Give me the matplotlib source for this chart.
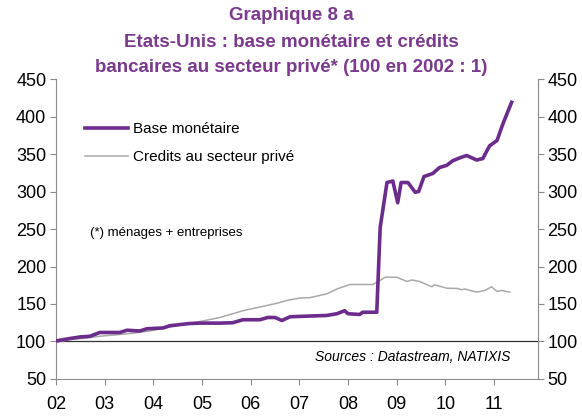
import matplotlib
matplotlib.use("Agg")
import matplotlib.pyplot as plt

plt.rcParams['font.family'] = ['Liberation Sans', 'DejaVu Sans']

# --- data (decimal year, index 100 = 2002:1) ---
baseYears = [2002.02, 2002.29, 2002.49, 2002.70, 2002.90, 2003.31, 2003.46, 2003.72,
             2003.87, 2004.20, 2004.34, 2004.75, 2004.96, 2005.37, 2005.63, 2005.84,
             2006.19, 2006.35, 2006.50, 2006.64, 2006.81, 2007.56, 2007.77, 2007.93,
             2008.00, 2008.24, 2008.30, 2008.55, 2008.59, 2008.66, 2008.80, 2008.92,
             2009.02, 2009.09, 2009.23, 2009.38, 2009.45, 2009.56, 2009.74, 2009.88,
             2010.03, 2010.15, 2010.30, 2010.44, 2010.54, 2010.64, 2010.77, 2010.85,
             2010.91, 2011.06, 2011.18, 2011.36]
baseValues = [101, 104, 106, 107, 112, 112, 115, 114,
              117, 118, 121, 124, 124.5, 124.5, 125, 129,
              129, 132, 132, 128, 133, 134.7, 137, 141,
              137, 136, 139, 139, 139, 252, 312, 314,
              285, 312, 312, 299, 300, 320, 324, 332,
              335, 341, 345, 348, 345, 342, 344, 354,
              361, 368, 390, 419]

creditYears = [2002.02, 2002.29, 2002.55, 2002.90, 2003.25, 2003.58, 2003.93, 2004.28,
               2004.61, 2004.96, 2005.37, 2005.84, 2006.54, 2006.74, 2007.01, 2007.22,
               2007.56, 2007.77, 2008.04, 2008.51, 2008.65, 2008.76, 2009.00, 2009.21,
               2009.31, 2009.47, 2009.72, 2009.78, 2010.03, 2010.25, 2010.34, 2010.40,
               2010.64, 2010.81, 2010.95, 2011.06, 2011.16, 2011.32]
creditValues = [99, 102.7, 104, 107, 109, 111, 114, 118.7,
                122.7, 126.7, 132, 141, 151, 154.7, 158, 158.5,
                163.5, 170, 176, 176, 181, 185.7, 185.7, 180,
                182, 180, 173, 175.6, 171, 170.7, 169, 170,
                165.8, 168, 173, 166.7, 168, 165.8]

yearTicks = list(range(2002, 2012))
yearLabels = ["02", "03", "04", "05", "06", "07", "08", "09", "10", "11"]
yTicks = [50, 100, 150, 200, 250, 300, 350, 400, 450]

purple = '#6b2c8c'
titleColor = '#7b3a8e'
axisGrey = '#8c8c8c'

fig = plt.figure(figsize=(5.82, 4.16), dpi=100)
ax = fig.add_axes([0.0962, 0.089, 0.828, 0.721])

ax.plot(baseYears, baseValues, color=purple, lw=2.6, label='Base monétaire',
        solid_joinstyle='round', zorder=3)
ax.plot(creditYears, creditValues, color='#a9a9a9', lw=1.1,
        label='Credits au secteur privé', zorder=2)
ax.axhline(100, color='#333333', lw=0.9, zorder=1)

ax.set_xlim(2002, 2011.9)
ax.set_ylim(50, 450)
ax.set_xticks(yearTicks)
ax.set_xticklabels(yearLabels)
ax.set_yticks(yTicks)
ax.tick_params(axis='both', labelsize=13, color=axisGrey, length=4, width=0.8)
ax.tick_params(axis='x', pad=8)
ax.tick_params(axis='y', left=True, right=True, labelleft=True, labelright=True, pad=3)

ax.spines['top'].set_visible(False)
for side in ['left', 'right', 'bottom']:
    ax.spines[side].set_color(axisGrey)
    ax.spines[side].set_linewidth(0.8)

leg = ax.legend(loc='upper left', bbox_to_anchor=(0.122, 0.74), bbox_transform=fig.transFigure,
                frameon=False, fontsize=11, handlelength=2.8, handletextpad=0.35,
                labelspacing=0.95)

fig.text(0.155, 0.44, "(*) ménages + entreprises", fontsize=9.5, va='center')
fig.text(0.877, 0.142, "Sources : Datastream, NATIXIS", fontsize=10, style='italic',
         ha='right', va='center')

fig.text(0.5, 0.962, "Graphique 8 a", fontsize=13.5, fontweight='bold', color=titleColor,
         ha='center', va='center')
fig.text(0.5, 0.897, "Etats-Unis : base monétaire et crédits", fontsize=13.5,
         fontweight='bold', color=titleColor, ha='center', va='center')
fig.text(0.5, 0.837, "bancaires au secteur privé* (100 en 2002 : 1)", fontsize=13.5,
         fontweight='bold', color=titleColor, ha='center', va='center')

fig.savefig("out.png", dpi=100)
